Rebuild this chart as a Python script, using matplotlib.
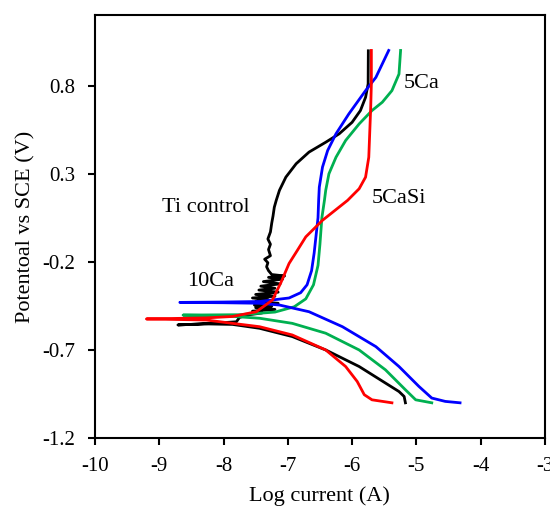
"""Potentiodynamic polarization curves of Ti samples."""
import numpy as np
import matplotlib
matplotlib.use("Agg")
import matplotlib.pyplot as plt

plt.rcParams['font.family'] = ['Liberation Serif', 'DejaVu Serif']

# log current (A) / potential vs SCE (V)
# each series: cathodic branch (bottom right) -> Ecorr tip -> anodic branch (top)
ti_x = [-5.17, -5.19, -5.27, -5.48, -5.89, -6.41, -6.93, -7.44, -7.86, -8.3, -8.71,
        -8.2, -7.80, -7.75, -7.60, -7.40, -7.55, -7.20, -7.50, -7.25, -7.52, -7.15,
        -7.50, -7.30, -7.55, -7.20, -7.50, -7.15, -7.45, -7.20, -7.42, -7.12,
        -7.38, -7.08, -7.30, -7.05, -7.25, -7.30, -7.33, -7.31, -7.36, -7.27,
        -7.30, -7.27, -7.31, -7.27, -7.25, -7.23, -7.21, -7.18,
        -7.13, -7.03, -6.87, -6.67, -6.41, -6.20, -6.00, -5.87, -5.79, -5.75, -5.747]
ti_y = [-1.0, -0.964, -0.936, -0.888, -0.794, -0.70, -0.624, -0.577, -0.555, -0.552, -0.558,
        -0.55, -0.540, -0.515, -0.500, -0.490, -0.480, -0.470, -0.460, -0.452, -0.445, -0.435,
        -0.425, -0.415, -0.405, -0.395, -0.385, -0.372, -0.360, -0.350, -0.338, -0.325,
        -0.312, -0.298, -0.288, -0.280, -0.272, -0.250, -0.228, -0.205, -0.185, -0.165,
        -0.13, -0.10, -0.07, -0.03, 0.02, 0.06, 0.11, 0.149,
        0.206, 0.281, 0.357, 0.423, 0.479, 0.527, 0.592, 0.659, 0.734, 0.81, 0.998]

ca10_x = [-4.32, -4.55, -4.76, -4.96, -5.27, -5.63, -6.15, -6.67, -7.13, -7.44, -8.0, -8.68,
          -8.0, -7.44, -6.98, -6.80, -6.70, -6.63, -6.59, -6.56, -6.53, -6.52,
          -6.51, -6.46, -6.38, -6.25, -6.05, -5.79, -5.63, -5.43]
ca10_y = [-1.0, -0.992, -0.973, -0.907, -0.794, -0.681, -0.568, -0.483, -0.445, -0.435, -0.432, -0.43,
          -0.428, -0.425, -0.405, -0.375, -0.33, -0.25, -0.15, -0.05, 0.05, 0.149,
          0.224, 0.338, 0.432, 0.527, 0.64, 0.772, 0.847, 1.0]

ca5_x = [-4.76, -5.01, -5.17, -5.48, -5.89, -6.41, -6.93, -7.44, -8.0, -8.63,
         -7.75, -7.2, -6.9, -6.72, -6.60, -6.53, -6.50, -6.47, -6.43,
         -6.41, -6.36, -6.25, -6.10, -5.89, -5.69, -5.53, -5.38, -5.27, -5.245]
ca5_y = [-1.0, -0.983, -0.926, -0.813, -0.70, -0.605, -0.549, -0.52, -0.506, -0.502,
         -0.50, -0.485, -0.455, -0.41, -0.33, -0.22, -0.10, 0.05, 0.149,
         0.206, 0.30, 0.394, 0.489, 0.583, 0.659, 0.706, 0.772, 0.866, 1.0]

ca5si_x = [-5.38, -5.69, -5.81, -5.92, -6.10, -6.41, -6.93, -7.44, -7.86, -8.27, -9.2,
           -8.27, -7.86, -7.49, -7.24, -7.11, -6.98, -6.85, -6.72, -6.46, -6.07,
           -5.89, -5.79, -5.74, -5.71, -5.70, -5.70]
ca5si_y = [-1.0, -0.983, -0.954, -0.879, -0.794, -0.70, -0.615, -0.568, -0.549, -0.53, -0.524,
           -0.518, -0.51, -0.483, -0.417, -0.32, -0.209, -0.134, -0.058, 0.036, 0.149,
           0.215, 0.281, 0.394, 0.677, 0.81, 1.0]

labels = ["Ti control", "10Ca", "5Ca", "5CaSi"]
label_pos = [(-8.95, 0.11), (-8.57, -0.31), (-5.2, 0.81), (-5.7, 0.16)]

fig = plt.figure(figsize=(5.5, 5.07), dpi=100)
ax = fig.add_axes([0.1727, 0.136, 0.818, 0.834])

ax.plot(ti_x, ti_y, color="black", lw=2)
ax.plot(ca5_x, ca5_y, color="#00b050", lw=2)
ax.plot(ca10_x, ca10_y, color="#0000ff", lw=2)
ax.plot(ca5si_x, ca5si_y, color="#ff0000", lw=2)

for lab, (lx, ly) in zip(labels, label_pos):
    ax.text(lx, ly, lab, fontsize=16, ha="left", va="center")

ax.set_xlim(-10, -3)
ax.set_ylim(-1.2, 1.2)
ax.set_xticks(np.arange(-10, -2, 1))
ax.set_yticks([-1.2, -0.7, -0.2, 0.3, 0.8])
ax.set_yticklabels(["-1.2", "-0.7", "-0.2", "0.3", "0.8"])
ax.set_xticklabels([str(v) for v in range(-10, -2)])
ax.tick_params(direction="out", length=5, width=1.5, labelsize=15)
ax.tick_params(axis="x", pad=9)
ax.tick_params(axis="y", pad=9)
for s in ax.spines.values():
    s.set_linewidth(1.5)

ax.set_xlabel("Log current (A)", fontsize=16, labelpad=7)
ax.set_ylabel("Potentoal vs SCE (V)", fontsize=16, labelpad=5)

fig.savefig("out.png", dpi=100)
